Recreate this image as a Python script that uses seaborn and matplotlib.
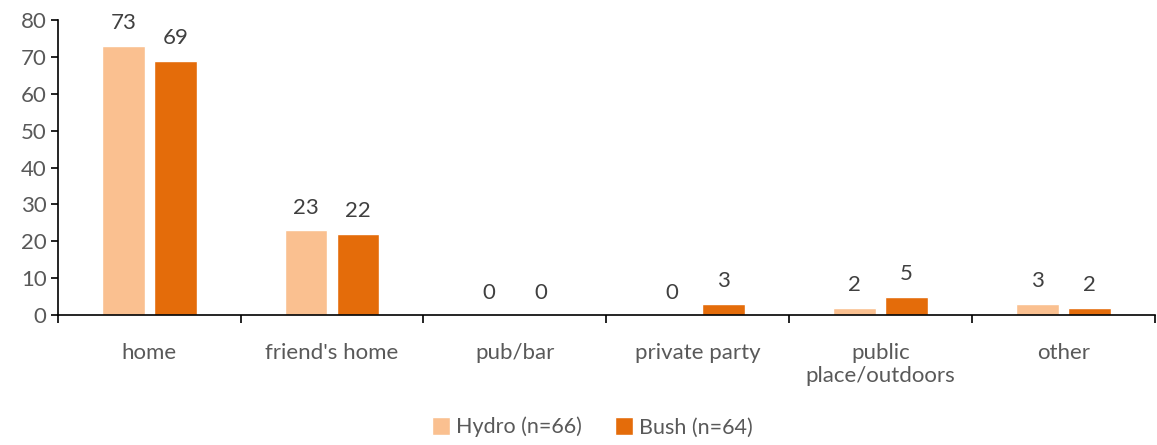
import matplotlib
matplotlib.use("Agg")
import matplotlib.pyplot as plt
import seaborn as sns
import pandas as pd
from matplotlib.ticker import FixedLocator

categories = ["home", "friend's home", "pub/bar", "private party", "public\nplace/outdoors", "other"]
hydro = [73, 23, 0, 0, 2, 3]
bush = [69, 22, 0, 3, 5, 2]
series = ["Hydro (n=66)", "Bush (n=64)"]
colors = ["#FAC090", "#E46C0A"]

df = pd.DataFrame({
    "place": categories * 2,
    "value": hydro + bush,
    "group": [series[0]] * len(hydro) + [series[1]] * len(bush),
})

sns.set_style("white")
plt.rcParams["font.family"] = ["Lato", "DejaVu Sans"]

fig = plt.figure(figsize=(11.57, 4.45), dpi=100)
ax = fig.add_axes([0.050, 0.292, 0.948, 0.663])

sns.barplot(data=df, x="place", y="value", hue="group", palette=colors,
            saturation=1, width=0.57, gap=0.18, ax=ax, legend=True)

for cont in ax.containers:
    ax.bar_label(cont, fmt="%d", padding=9, fontsize=16, color="#404040")

ax.set_xlim(-0.5, len(categories) - 0.5)
ax.set_ylim(0, 80)
ax.set_yticks(range(0, 81, 10))
ax.set_xlabel("")
ax.set_ylabel("")

for s in ["top", "right"]:
    ax.spines[s].set_visible(False)
for s in ["left", "bottom"]:
    ax.spines[s].set_color("black")
    ax.spines[s].set_linewidth(1.2)

ax.tick_params(axis="y", direction="out", length=5, width=1.2, color="black",
               labelsize=16, labelcolor="#595959", left=True, pad=3)
ax.tick_params(axis="x", which="major", length=0, labelsize=16, labelcolor="#595959", pad=20)
ax.xaxis.set_minor_locator(FixedLocator([i - 0.5 for i in range(len(categories) + 1)]))
ax.tick_params(axis="x", which="minor", direction="out", length=6, width=1.2,
               color="black", bottom=True)

ax.get_legend().remove()
handles, labels = ax.get_legend_handles_labels()
fig.legend(handles, labels, loc="center", bbox_to_anchor=(0.512, 0.04), ncol=2,
           frameon=False, fontsize=15.5, labelcolor="#595959",
           handlelength=0.85, handleheight=0.85, handletextpad=0.3, columnspacing=1.5)

fig.savefig("out.png", dpi=100)
